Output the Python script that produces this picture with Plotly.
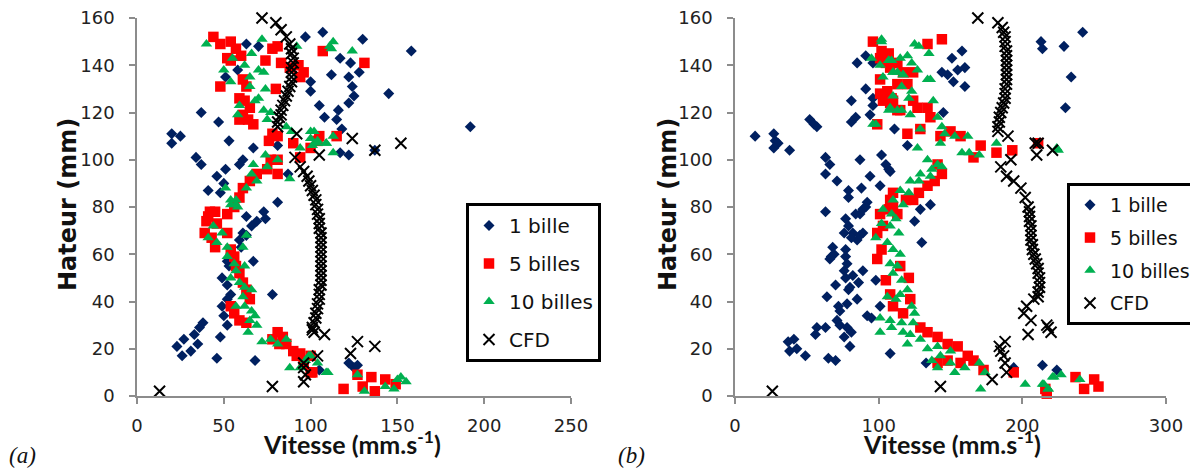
import plotly.graph_objects as go

# The page body has an 8px margin: figure is drawn from screen (8, 8)
OFF = 8
W, H = 1190, 460

# ---------------- data : panel (a) ----------------
a_1bille_x = [63,70,97,107,130,158,58,51,100,100,105,108,117,123,112,122,128,124,125,122,116,145,192,115,118,37,47,20,25,20,53,67,81,117,122,137,34,37,51,46,59,61,87,41,50,48,81,73,74,69,66,63,61,59,60,63,54,52,53,67,49,52,54,52,78,49,50,52,38,36,33,27,23,26,31,35,48,46,68,105,122,125,127]
a_1bille_y = [149,148,152,154,151,146,138,135,133,129,123,118,143,141,136,135,137,131,127,124,121,128,114,117,113,120,116,111,110,107,108,105,106,103,102,104,101,98,96,93,98,100,94,87,90,86,82,78,75,74,72,76,69,66,63,68,60,57,55,57,50,47,43,41,43,38,34,30,31,29,26,24,21,17,19,22,25,16,15,11,14,12,13]

a_5billes_x = [44,48,54,57,60,52,54,74,78,81,48,61,63,59,62,65,61,64,67,59,80,83,88,93,94,96,107,131,78,76,81,90,94,100,104,105,115,81,77,81,75,69,65,61,59,56,52,45,41,42,40,39,43,46,45,52,54,56,57,59,61,63,65,54,56,59,63,81,84,86,90,92,96,100,78,82,94,100,101,119,127,130,135,137,143,149]
a_5billes_y = [152,149,150,147,144,143,142,142,147,148,131,134,131,126,125,122,119,117,115,117,130,141,139,140,135,137,146,141,111,108,110,107,101,105,108,110,110,100,100,94,96,94,91,88,84,80,77,78,76,78,74,69,67,73,63,69,62,59,55,52,48,45,41,38,35,32,31,27,25,22,19,17,14,10,24,22,18,17,10,3,9,4,8,2,7,5]

a_10billes_x = [40,72,92,111,55,50,62,66,70,73,54,65,74,70,68,73,59,58,75,77,65,86,89,100,102,104,109,94,101,74,81,75,67,66,69,63,57,54,51,58,88,113,112,124,100,109,113,113,104,54,57,44,41,49,46,52,52,56,54,57,62,59,62,66,61,57,62,66,68,69,64,65,72,77,81,86,88,94,97,100,104,109,99,110,127,131,143,148,150,152,155,61,63]
a_10billes_y = [149,151,148,148,143,138,140,145,138,137,133,131,130,126,125,121,123,119,117,120,135,114,112,112,112,108,107,105,106,102,100,97,98,94,91,88,83,83,88,80,92,150,147,146,109,107,110,103,107,81,81,72,67,69,65,63,59,56,50,53,55,48,46,45,42,38,38,36,34,30,27,32,23,24,22,24,12,12,15,17,14,10,17,10,9,2,4,3,7,8,6,63,68]

a_cfd_x = [72,80,83,86,88,89,89,90,90,89,89,89,89,88,87,86,85,84,83,83,82,81,81,92,124,137,152,105,91,94,96,98,99,100,101,102,103,103,104,104,105,105,105,106,106,106,106,106,106,106,106,106,106,106,106,105,105,105,104,104,103,103,102,101,101,108,102,127,137,123,104,96,96,97,96,78,13]
a_cfd_y = [160,158,155,152,149,147,145,143,141,139,137,135,133,131,129,127,125,123,121,119,118,116,114,111,109,104,107,102,101,97,95,93,91,89,87,85,83,81,79,77,75,73,71,69,67,65,63,61,59,57,55,53,51,49,47,45,43,41,39,37,35,33,31,29,28,26,27,23,21,18,17,14,12,9,6,4,2]

# ---------------- data : panel (b) ----------------
b_1bille_x = [14,27,28,30,27,38,52,55,57,63,66,63,71,79,79,88,87,94,101,102,107,108,92,89,63,85,91,96,91,96,81,96,94,84,81,111,77,84,87,91,76,79,82,85,87,81,89,68,69,66,67,77,77,78,76,77,79,80,85,86,89,82,98,70,64,72,73,78,71,73,78,76,81,80,57,63,56,37,41,38,43,49,65,70,92,95,101,108,158,151,155,160,144,148,152,160,145,120,105,136,129,125,130,133,194,214,224,242,229,234,230,213,214]
b_1bille_y = [110,111,108,107,105,104,117,115,114,101,98,94,91,87,84,88,100,93,89,102,96,95,82,79,78,141,144,141,130,126,125,123,119,118,116,113,75,77,77,80,69,72,69,66,68,67,69,63,60,58,59,62,59,56,53,50,45,46,41,48,53,51,49,47,42,38,36,39,32,30,29,25,27,21,29,29,26,23,24,19,20,17,16,15,34,33,38,18,146,143,138,139,137,136,133,131,120,106,98,81,79,74,65,14,12,13,11,154,148,135,122,150,147]

b_5billes_x = [96,102,107,101,105,101,106,109,103,108,113,110,113,99,110,108,107,113,108,113,117,124,134,144,101,120,124,115,127,134,136,120,129,143,150,157,166,171,182,193,211,141,144,139,134,128,124,119,110,101,103,99,102,99,105,108,110,117,122,121,115,129,134,141,148,155,162,166,173,194,217,141,148,157,216,237,243,250,253]
b_5billes_y = [150,146,145,143,141,128,129,126,125,124,121,125,132,115,86,83,79,77,139,141,137,137,149,151,134,132,125,121,122,122,118,111,113,110,112,110,101,106,103,104,107,98,94,91,89,86,83,83,80,77,72,69,62,58,49,43,38,35,41,50,55,29,27,25,22,21,17,15,11,10,1,14,15,14,3,8,3,7,4]

b_10billes_x = [102,95,101,107,103,110,107,98,113,102,109,110,117,125,128,135,107,115,120,123,113,117,127,116,123,134,136,110,121,138,108,116,122,141,96,129,144,146,153,143,162,127,158,163,170,182,134,141,144,137,129,136,122,128,115,121,110,117,103,109,112,102,108,98,114,106,110,115,108,113,110,116,120,106,112,115,123,125,101,108,116,124,101,109,117,122,129,120,134,141,150,137,143,150,141,153,160,170,174,171,202,215,221,218,224,225,214,218,222,227,240]
b_10billes_y = [150,143,140,142,135,137,121,115,121,151,142,137,136,149,148,145,142,143,144,141,137,136,138,131,129,134,134,127,126,125,122,121,119,118,115,113,114,111,110,107,110,105,103,103,102,107,100,98,97,96,94,93,91,91,87,86,83,81,79,77,75,73,72,67,69,65,62,60,56,55,52,49,45,42,41,43,38,35,33,32,31,31,27,29,27,26,24,22,20,21,19,15,17,14,12,10,12,14,10,3,5,5,8,3,105,104,5,3,8,9,7]

b_cfd_x = [169,183,186,187,188,188,188,189,189,189,189,189,189,189,189,188,188,188,187,186,185,184,184,183,183,190,209,221,210,211,192,185,189,194,199,202,204,205,205,205,206,206,206,206,207,207,208,209,210,211,211,212,212,212,211,211,208,203,201,206,217,218,220,204,188,184,185,187,188,189,179,143,26]
b_cfd_y = [160,158,156,154,152,150,148,146,144,142,140,138,136,134,132,130,128,126,124,122,120,118,116,114,112,110,107,104,102,107,100,97,93,91,88,84,80,78,76,74,72,70,68,66,64,62,60,58,56,54,52,50,48,46,44,42,41,38,35,32,30,29,27,26,23,21,19,17,14,10,7,4,2]

names = ["1 bille", "5 billes", "10 billes", "CFD"]

# ---------------- styles ----------------
styles = [
    dict(symbol="diamond", size=8.5, color="#002060"),
    dict(symbol="square", size=10.5, color="#FF0000"),
    dict(symbol="triangle-up", size=10, color="#00B050"),
    dict(symbol="x-thin", size=11, color="#000000", line=dict(width=2, color="#000000")),
]

fig = go.Figure()

panels = [
    ("x", "y", "legend", [(a_1bille_x, a_1bille_y), (a_5billes_x, a_5billes_y),
                          (a_10billes_x, a_10billes_y), (a_cfd_x, a_cfd_y)]),
    ("x2", "y2", "legend2", [(b_1bille_x, b_1bille_y), (b_5billes_x, b_5billes_y),
                             (b_10billes_x, b_10billes_y), (b_cfd_x, b_cfd_y)]),
]
for xa, ya, lg, series in panels:
    for i, (sx, sy) in enumerate(series):
        fig.add_trace(go.Scatter(
            x=sx, y=sy, mode="markers", name=names[i], xaxis=xa, yaxis=ya,
            legend=lg, legendgroup=lg + str(i), marker=dict(styles[i]), cliponaxis=False,
        ))

def px(xs):
    return (xs - OFF) / W

def py(ys):
    return 1 - (ys - OFF) / H

WIDE = "DejaVu Sans, Verdana, sans-serif"
LATO = "Lato, Carlito, sans-serif"
tickfont = dict(family=WIDE, size=18, color="#222222")
axis_common = dict(showline=True, linecolor="#8C8C8C", linewidth=1.5, ticks="outside",
                   ticklen=6, tickwidth=1.5, tickcolor="#8C8C8C", showgrid=False,
                   zeroline=False, tickfont=tickfont, ticklabeloverflow="allow")

fig.update_layout(
    width=W, height=H, paper_bgcolor="white", plot_bgcolor="white",
    margin=dict(l=0, r=0, t=0, b=0, autoexpand=False),
    xaxis=dict(domain=[px(137), px(571)], range=[0, 250], dtick=50, anchor="y",
               ticklabelstandoff=7, **axis_common),
    yaxis=dict(domain=[py(396), py(18)], range=[0, 160], dtick=20, anchor="x",
               ticklabelstandoff=11, **axis_common),
    xaxis2=dict(domain=[px(735), px(1166)], range=[0, 300], dtick=100, anchor="y2",
                ticklabelstandoff=7, **axis_common),
    yaxis2=dict(domain=[py(396), py(18)], range=[0, 160], dtick=20, anchor="x2",
                ticklabelstandoff=11, **axis_common),
    legend=dict(x=px(466), y=py(203), xanchor="left", yanchor="top", bgcolor="white",
                bordercolor="black", borderwidth=3, tracegroupgap=9,
                font=dict(family=WIDE, size=20, color="#111111")),
    legend2=dict(x=px(1067), y=py(183), xanchor="left", yanchor="top", bgcolor="white",
                 bordercolor="black", borderwidth=3, tracegroupgap=5,
                 font=dict(family=WIDE, size=19, color="#111111")),
    showlegend=True,
)

ann = []
for xc in (352, 952):
    ann.append(dict(x=px(xc), y=py(442), xref="paper", yref="paper", showarrow=False,
                    text="<b>Vitesse (mm.s<sup>-1</sup>)</b>",
                    font=dict(family=LATO, size=25, color="#111111"),
                    xanchor="center", yanchor="middle"))
for xc in (68, 668):
    ann.append(dict(x=px(xc), y=py(205), xref="paper", yref="paper", showarrow=False,
                    text="<b>Hateur (mm)</b>",
                    font=dict(family=WIDE, size=24, color="#111111"), textangle=-90,
                    xanchor="center", yanchor="middle"))
for xc, lab in ((22, "(a)"), (631, "(b)")):
    ann.append(dict(x=px(xc), y=py(455), xref="paper", yref="paper", showarrow=False,
                    text="<i>" + lab + "</i>",
                    font=dict(family="Liberation Serif, serif", size=23, color="#111111"),
                    xanchor="center", yanchor="middle"))
fig.update_layout(annotations=ann)

fig.write_html("out.html")
